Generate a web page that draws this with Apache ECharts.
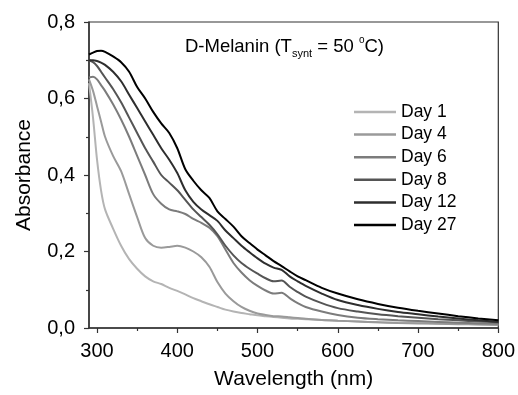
<!DOCTYPE html>
<html>
<head>
<meta charset="utf-8">
<script src="https://cdn.jsdelivr.net/npm/echarts@6/dist/echarts.min.js"></script>
<style>
  html, body { margin: 0; padding: 0; background: #fff; }
  #main { width: 518px; height: 395px; }
</style>
</head>
<body>
<div id="main"></div>
<script>
// wavelength (nm)
var wavelengths = [290,295,300,305,310,320,330,340,350,360,370,380,390,400,410,420,430,440,450,460,470,480,490,500,510,520,530,540,550,560,580,600,625,650,675,700,725,750,775,800];

// absorbance per sample day
var day1  = [0.64,0.55,0.44,0.36,0.31,0.26,0.215,0.18,0.155,0.135,0.122,0.115,0.105,0.097,0.088,0.078,0.07,0.062,0.055,0.048,0.043,0.039,0.036,0.033,0.031,0.029,0.027,0.025,0.024,0.023,0.021,0.019,0.017,0.015,0.014,0.013,0.012,0.011,0.01,0.009];
var day4  = [0.65,0.62,0.58,0.54,0.50,0.45,0.41,0.35,0.29,0.235,0.215,0.21,0.212,0.215,0.21,0.2,0.185,0.16,0.12,0.09,0.07,0.055,0.045,0.038,0.034,0.031,0.03,0.028,0.026,0.024,0.021,0.019,0.017,0.015,0.013,0.012,0.011,0.01,0.009,0.008];
var day6  = [0.655,0.657,0.65,0.635,0.62,0.585,0.545,0.5,0.45,0.40,0.35,0.325,0.31,0.305,0.298,0.285,0.275,0.262,0.24,0.205,0.17,0.145,0.125,0.11,0.098,0.09,0.092,0.078,0.065,0.055,0.043,0.034,0.027,0.023,0.02,0.018,0.016,0.014,0.012,0.011];
var day8  = [0.70,0.695,0.685,0.67,0.655,0.625,0.59,0.55,0.51,0.47,0.435,0.40,0.38,0.36,0.335,0.31,0.29,0.27,0.245,0.215,0.19,0.17,0.155,0.142,0.13,0.122,0.124,0.108,0.094,0.082,0.065,0.052,0.043,0.036,0.031,0.027,0.023,0.02,0.017,0.015];
var day12 = [0.70,0.70,0.698,0.694,0.688,0.67,0.645,0.61,0.575,0.54,0.505,0.47,0.44,0.405,0.36,0.33,0.31,0.295,0.28,0.255,0.235,0.215,0.198,0.182,0.168,0.158,0.152,0.135,0.122,0.11,0.09,0.073,0.06,0.05,0.042,0.036,0.03,0.025,0.02,0.016];
var day27 = [0.715,0.72,0.724,0.725,0.722,0.71,0.695,0.67,0.63,0.60,0.565,0.535,0.51,0.47,0.415,0.385,0.36,0.34,0.305,0.285,0.265,0.24,0.222,0.205,0.19,0.175,0.162,0.148,0.135,0.125,0.105,0.09,0.075,0.063,0.053,0.045,0.038,0.031,0.025,0.02];

var seriesNames = ['Day 1','Day 4','Day 6','Day 8','Day 12','Day 27'];
var seriesColors = ['#b4b4b4','#9a9a9a','#7c7c7c','#555555','#2e2e2e','#000000'];
var allDays = [day1, day4, day6, day8, day12, day27];

var xMajorTicks = [300,400,500,600,700,800];
var xMinorTicks = [350,450,550,650,750];

var font = 'Arial, "Liberation Sans", sans-serif';

function pairs(ys) {
    return wavelengths.map(function (w, i) { return [w, ys[i]]; });
}

var myChart = echarts.init(document.getElementById('main'));

var series = allDays.map(function (ys, i) {
    return {
        name: seriesNames[i],
        type: 'line',
        xAxisIndex: 0,
        data: pairs(ys),
        symbol: 'none',
        smooth: 0.3,
        lineStyle: { color: seriesColors[i], width: 2 },
        itemStyle: { color: seriesColors[i] },
        z: 3 + i
    };
});

var option = {
    animation: false,
    grid: {
        left: 89, right: 16, top: 22, bottom: 64,
        show: true,
        borderColor: '#333',
        borderWidth: 1.2
    },
    legend: {
        data: seriesNames,
        orient: 'vertical',
        left: 354,
        top: 103,
        padding: 0,
        icon: 'rect',
        itemWidth: 42,
        itemHeight: 2.5,
        itemGap: 4.6,
        textStyle: { fontFamily: font, fontSize: 17.5, color: '#000', lineHeight: 18 }
    },
    xAxis: [{
        type: 'value',
        min: 290,
        max: 800,
        name: 'Wavelength (nm)',
        nameLocation: 'middle',
        nameGap: 41,
        nameTextStyle: { fontFamily: font, fontSize: 21, color: '#000' },
        axisLine: { show: true, lineStyle: { color: '#333', width: 1.5 } },
        axisTick: { show: true, length: 5, customValues: xMajorTicks, lineStyle: { color: '#333', width: 1.2 } },
        axisLabel: { customValues: xMajorTicks, margin: 13, fontFamily: font, fontSize: 20, color: '#000' },
        splitLine: { show: false }
    }, {
        type: 'value',
        min: 290,
        max: 800,
        position: 'bottom',
        axisLine: { show: false },
        axisTick: { show: true, length: 3, customValues: xMinorTicks, lineStyle: { color: '#333', width: 1.2 } },
        axisLabel: { show: false },
        splitLine: { show: false }
    }],
    yAxis: {
        type: 'value',
        min: 0,
        max: 0.8,
        interval: 0.2,
        name: 'Absorbance',
        nameLocation: 'middle',
        nameGap: 54,
        nameTextStyle: { fontFamily: font, fontSize: 21, color: '#000' },
        axisLine: { show: true, lineStyle: { color: '#333', width: 1.5 } },
        axisTick: { show: true, length: 5, lineStyle: { color: '#333', width: 1.2 } },
        minorTick: { show: true, splitNumber: 2, length: 3, lineStyle: { color: '#333', width: 1.2 } },
        axisLabel: {
            margin: 14,
            fontFamily: font, fontSize: 20, color: '#000',
            formatter: function (v) { return v.toFixed(1).replace('.', ','); }
        },
        splitLine: { show: false }
    },
    graphic: [{
        type: 'text',
        left: 185,
        top: 35,
        style: {
            text: '{a|D-Melanin (T}{s|synt}{a| = 50 }{u|o}{a|C)}',
            fill: '#000',
            rich: {
                a: { fontFamily: font, fontSize: 18.5, lineHeight: 24, verticalAlign: 'middle', fill: '#000' },
                s: { fontFamily: font, fontSize: 11, lineHeight: 11, verticalAlign: 'bottom', fill: '#000' },
                u: { fontFamily: font, fontSize: 10, lineHeight: 11, verticalAlign: 'top', fill: '#000' }
            }
        }
    }],
    series: series
};

myChart.setOption(option);
</script>
</body>
</html>
